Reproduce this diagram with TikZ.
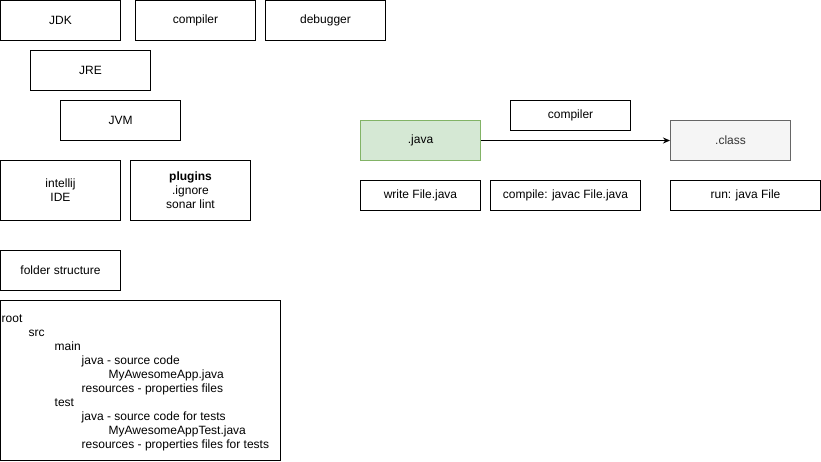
\documentclass[tikz,border=0pt]{standalone}
\usepackage{fontspec}
\setmainfont{Liberation Sans}
\usetikzlibrary{arrows.meta}
\definecolor{greenfill}{HTML}{D5E8D4}
\definecolor{greendraw}{HTML}{82B366}
\definecolor{greyfill}{HTML}{F5F5F5}
\definecolor{greydraw}{HTML}{666666}
\definecolor{greytext}{HTML}{333333}
\tikzset{
  box/.style={draw=black, line width=1pt, fill=white, inner sep=0pt, align=center,
    font=\fontsize{12}{14}\selectfont},
}
\begin{document}
\begin{tikzpicture}[x=1pt,y=-1pt]
\useasboundingbox (0,0) rectangle (821,461);
\node[box, minimum width=120, minimum height=40] (jdk) at (60.5,20.5) {JDK};
\node[box, minimum width=120, minimum height=40] (comp1) at (195.5,20.5) {compiler};
\node[box, minimum width=120, minimum height=40] (dbg) at (325.5,20.5) {debugger};
\node[box, minimum width=120, minimum height=40] (jre) at (90.5,70.5) {JRE};
\node[box, minimum width=120, minimum height=40] (jvm) at (120.5,120.5) {JVM};
\node[box, minimum width=120, minimum height=60] (ide) at (60.5,190.5) {intellij\\IDE};
\node[box, minimum width=120, minimum height=60] (plug) at (190.5,190.5) {\textbf{plugins}\\.ignore\\sonar lint};
\node[box, minimum width=120, minimum height=40] (folder) at (60.5,270.5) {folder structure};
\node[box, minimum width=280, minimum height=160] (tree) at (140.5,380.5) {};
\node[anchor=west, align=left, inner sep=0pt, font=\fontsize{12}{14}\selectfont] (treetxt) at ([xshift=1.5pt,yshift=-2pt]tree.west)
{root\\
\hspace{27pt}src\\
\hspace{53pt}main\\
\hspace{80pt}java - source code\\
\hspace{107pt}MyAwesomeApp.java\\
\hspace{80pt}resources - properties files\\
\hspace{53pt}test\\
\hspace{80pt}java - source code for tests\\
\hspace{107pt}MyAwesomeAppTest.java\\
\hspace{80pt}resources - properties files for tests};
\node[box, minimum width=120, minimum height=30] (comp2) at (570.5,115.5) {compiler};
\node[box, draw=greendraw, fill=greenfill, minimum width=120, minimum height=40] (java) at (420.5,140.5) {.java};
\node[box, draw=greydraw, fill=greyfill, text=greytext, minimum width=120, minimum height=40] (class) at (730.5,140.5) {.class};
\node[box, minimum width=120, minimum height=30] (write) at (420.5,195.5) {write File.java};
\node[box, minimum width=150, minimum height=30] (compile) at (565.5,195.5) {compile: javac File.java};
\node[box, minimum width=150, minimum height=30] (run) at (745.5,195.5) {run: java File};
\draw[line width=1pt, -{Stealth[length=7pt,width=6pt]}] (java) -- (class);
\end{tikzpicture}
\end{document}
